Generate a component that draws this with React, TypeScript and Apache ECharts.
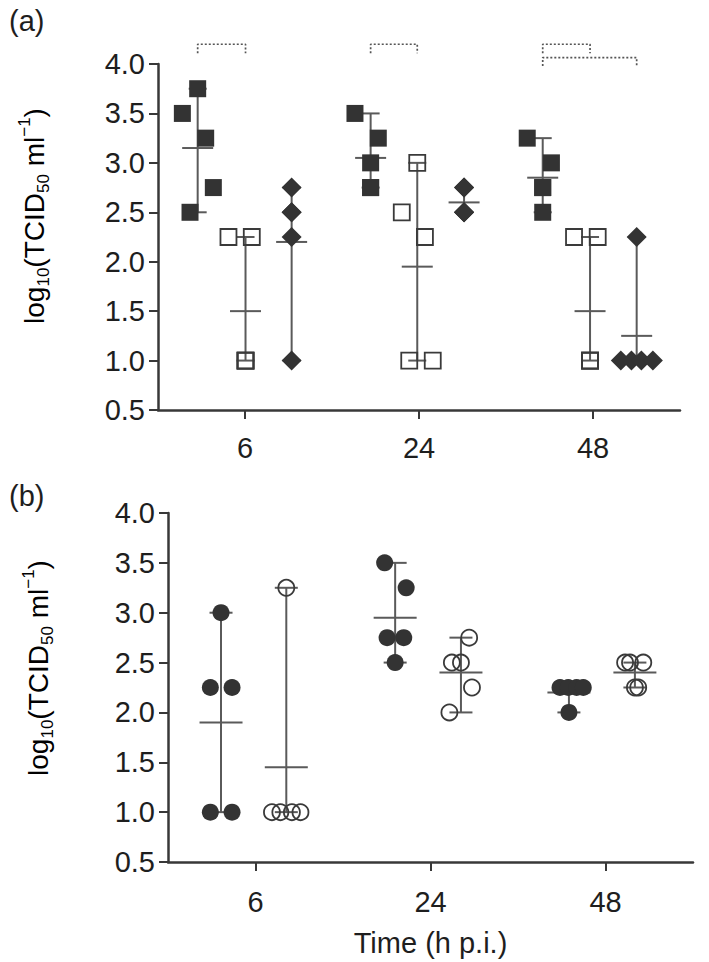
import React, { useEffect, useRef } from 'react';
import * as echarts from 'echarts';

// ---------- data ----------
const timeCategories = ['6', '24', '48'];

// Panel (a): per time point (6, 24, 48 h p.i.)
const aFilledSquareValues = [
  [3.75, 3.5, 3.25, 2.75, 2.5],
  [3.5, 3.25, 3.0, 2.75, 2.75],
  [3.25, 3.0, 2.75, 2.75, 2.5],
];
const aFilledSquareDx = [
  [-0.272, -0.36, -0.226, -0.182, -0.316],
  [-0.368, -0.234, -0.278, -0.278, -0.278],
  [-0.378, -0.239, -0.289, -0.289, -0.289],
];
const aFilledBarDx = [-0.272, -0.278, -0.289];

const aOpenSquareValues = [
  [2.25, 2.25, 1.0, 1.0, 1.0],
  [3.0, 2.5, 2.25, 1.0, 1.0],
  [2.25, 2.25, 1.0, 1.0, 1.0],
];
const aOpenSquareDx = [
  [-0.095, 0.039, 0.003, 0.003, 0.003],
  [-0.01, -0.099, 0.034, -0.056, 0.079],
  [-0.109, 0.027, -0.017, -0.017, -0.017],
];
const aOpenBarDx = [0.003, -0.01, -0.017];

const aDiamondValues = [
  [2.75, 2.5, 2.5, 2.25, 1.0],
  [2.75, 2.75, 2.5, 2.5, 2.5],
  [2.25, 1.0, 1.0, 1.0, 1.0],
];
const aDiamondDx = [
  [0.268, 0.268, 0.268, 0.268, 0.268],
  [0.259, 0.259, 0.259, 0.259, 0.259],
  [0.251, 0.16, 0.221, 0.278, 0.344],
];
const aDiamondBarDx = [0.268, 0.259, 0.251];

// significance brackets of panel (a)
const bracketCategory = [0, 1, 2, 2];
const bracketFromGroup = [0, 0, 0, 0];
const bracketToGroup = [1, 1, 1, 2];
const bracketTop = [4.2, 4.2, 4.2, 4.065];
const bracketFoot = [4.11, 4.11, 4.11, 3.98];

// Panel (b)
const bFilledCircleValues = [
  [3.0, 2.25, 2.25, 1.0, 1.0],
  [3.5, 3.25, 2.75, 2.75, 2.5],
  [2.25, 2.25, 2.25, 2.25, 2.0],
];
const bFilledCircleDx = [
  [-0.197, -0.258, -0.134, -0.258, -0.134],
  [-0.262, -0.139, -0.248, -0.153, -0.202],
  [-0.26, -0.213, -0.165, -0.127, -0.209],
];
const bFilledBarDx = [-0.197, -0.202, -0.209];

const bOpenCircleValues = [
  [3.25, 1.0, 1.0, 1.0, 1.0],
  [2.75, 2.5, 2.5, 2.25, 2.0],
  [2.5, 2.5, 2.5, 2.25, 2.25],
];
const bOpenCircleDx = [
  [0.176, 0.094, 0.142, 0.208, 0.257],
  [0.221, 0.122, 0.174, 0.237, 0.108],
  [0.112, 0.14, 0.216, 0.168, 0.187],
];
const bOpenBarDx = [0.176, 0.174, 0.168];

// ---------- helpers ----------
const FONT = '"Liberation Sans", Arial, Helvetica, sans-serif';
const INK = '#333333';
const AXIS = '#383838';
const BAR = '#5a5a5a';
const TEXT = '#1e1e1e';
const TICK_FONT = 29;

const mean = (a: number[]) => a.reduce((s, v) => s + v, 0) / a.length;

function toPoints(values: number[][], dx: number[][]) {
  const out: number[][] = [];
  values.forEach((vals, c) => vals.forEach((v, i) => out.push([c + 0.5 + dx[c][i], v])));
  return out;
}
function toBars(values: number[][], barDx: number[]) {
  return values.map((vals, c) => [c + 0.5 + barDx[c], Math.min(...vals), Math.max(...vals), mean(vals)]);
}

function errorBarSeries(xAxisIndex: number, yAxisIndex: number, data: number[][], capW: number, meanW: number) {
  return {
    type: 'custom',
    xAxisIndex,
    yAxisIndex,
    z: 1,
    silent: true,
    encode: { x: 0, y: [1, 2, 3] },
    data,
    renderItem: (_p: any, api: any) => {
      const x = api.value(0);
      const lo = api.coord([x, api.value(1)]);
      const hi = api.coord([x, api.value(2)]);
      const mn = api.coord([x, api.value(3)]);
      const style = { stroke: BAR, lineWidth: 2 };
      return {
        type: 'group',
        children: [
          { type: 'line', shape: { x1: lo[0], y1: lo[1], x2: hi[0], y2: hi[1] }, style },
          { type: 'line', shape: { x1: lo[0] - capW / 2, y1: lo[1], x2: lo[0] + capW / 2, y2: lo[1] }, style },
          { type: 'line', shape: { x1: hi[0] - capW / 2, y1: hi[1], x2: hi[0] + capW / 2, y2: hi[1] }, style },
          { type: 'line', shape: { x1: mn[0] - meanW / 2, y1: mn[1], x2: mn[0] + meanW / 2, y2: mn[1] }, style },
        ],
      };
    },
  };
}

function scatter(xAxisIndex: number, yAxisIndex: number, data: number[][], symbol: string, size: any, filled: boolean) {
  return {
    type: 'scatter',
    xAxisIndex,
    yAxisIndex,
    z: 2,
    symbol,
    symbolSize: size,
    data,
    silent: true,
    itemStyle: filled
      ? { color: INK, borderWidth: 0, opacity: 1 }
      : { color: 'rgba(255,255,255,0)', borderColor: '#3a3a3a', borderWidth: 1.8, opacity: 1 },
  };
}

const catAxis = (gridIndex: number, margin: number, extra: any = {}) => ({
  gridIndex,
  type: 'category',
  data: timeCategories,
  boundaryGap: true,
  axisLine: { show: true, lineStyle: { color: AXIS, width: 2.5 } },
  axisTick: { show: true, alignWithLabel: true, length: 9, lineStyle: { color: AXIS, width: 2 } },
  axisLabel: { show: true, interval: 0, margin, fontSize: TICK_FONT, color: TEXT, fontFamily: FONT },
  splitLine: { show: false },
  ...extra,
});
const hiddenValueX = (gridIndex: number) => ({ gridIndex, type: 'value', min: 0, max: 3, show: false });
const valueY = (gridIndex: number) => ({
  gridIndex,
  type: 'value',
  min: 0.5,
  max: 4,
  interval: 0.5,
  axisLine: { show: true, lineStyle: { color: AXIS, width: 2.5 } },
  axisTick: { show: true, length: 9, lineStyle: { color: AXIS, width: 2 } },
  axisLabel: { margin: 13, fontSize: TICK_FONT, color: TEXT, fontFamily: FONT, formatter: (v: number) => v.toFixed(1) },
  splitLine: { show: false },
});

const yLabelRich = {
  n: { fontSize: 28, fontFamily: FONT, color: TEXT, lineHeight: 36 },
  s: { fontSize: 17, fontFamily: FONT, color: TEXT, lineHeight: 17, verticalAlign: 'bottom' },
  p: { fontSize: 17, fontFamily: FONT, color: TEXT, lineHeight: 17, verticalAlign: 'top' },
};
const yLabelText = '{n|log}{s|10}{n|(TCID}{s|50}{n| ml}{p|−1}{n|)}';

export default function App() {
  const ref = useRef<HTMLDivElement>(null);
  useEffect(() => {
    document.body.style.margin = '0';
    if (!ref.current) return;
    const chart = echarts.init(ref.current, undefined, { renderer: 'svg' });

    const aGroupBarDx = [aFilledBarDx, aOpenBarDx, aDiamondBarDx];
    const bracketSeries = bracketCategory.map((c, i) => {
      const x1 = c + 0.5 + aGroupBarDx[bracketFromGroup[i]][c];
      const x2 = c + 0.5 + aGroupBarDx[bracketToGroup[i]][c];
      return {
        type: 'line',
        xAxisIndex: 1,
        yAxisIndex: 0,
        clip: false,
        silent: true,
        symbol: 'none',
        z: 3,
        lineStyle: { color: '#555555', width: 1.7, type: [2, 2] },
        data: [
          [x1, bracketFoot[i]],
          [x1, bracketTop[i]],
          [x2, bracketTop[i]],
          [x2, bracketFoot[i]],
        ],
      };
    });

    const option: any = {
      animation: false,
      backgroundColor: '#ffffff',
      textStyle: { fontFamily: FONT },
      title: [
        { text: '(a)', left: 4, top: 1, textStyle: { fontSize: 29, fontWeight: 'normal', color: TEXT, fontFamily: FONT } },
        { text: '(b)', left: 4, top: 476, textStyle: { fontSize: 29, fontWeight: 'normal', color: TEXT, fontFamily: FONT } },
      ],
      grid: [
        { left: 158, top: 64, width: 522, height: 346 },
        { left: 168, top: 513, width: 525, height: 349 },
      ],
      xAxis: [
        catAxis(0, 23),
        hiddenValueX(0),
        catAxis(1, 25, {
          name: 'Time (h p.i.)',
          nameLocation: 'middle',
          nameGap: 66,
          nameTextStyle: { fontSize: TICK_FONT, color: TEXT, fontFamily: FONT },
        }),
        hiddenValueX(1),
      ],
      yAxis: [valueY(0), valueY(1)],
      graphic: [
        {
          type: 'text',
          x: 34,
          y: 216,
          rotation: Math.PI / 2,
          style: { text: yLabelText, rich: yLabelRich, align: 'center', verticalAlign: 'middle' },
        },
        {
          type: 'text',
          x: 38,
          y: 668,
          rotation: Math.PI / 2,
          style: { text: yLabelText, rich: yLabelRich, align: 'center', verticalAlign: 'middle' },
        },
      ],
      series: [
        errorBarSeries(1, 0, toBars(aFilledSquareValues, aFilledBarDx), 18, 31),
        errorBarSeries(1, 0, toBars(aOpenSquareValues, aOpenBarDx), 18, 31),
        errorBarSeries(1, 0, toBars(aDiamondValues, aDiamondBarDx), 18, 31),
        scatter(1, 0, toPoints(aFilledSquareValues, aFilledSquareDx), 'rect', 17, true),
        scatter(1, 0, toPoints(aOpenSquareValues, aOpenSquareDx), 'rect', 16, false),
        scatter(1, 0, toPoints(aDiamondValues, aDiamondDx), 'diamond', [20, 20], true),
        ...bracketSeries,
        errorBarSeries(3, 1, toBars(bFilledCircleValues, bFilledBarDx), 23, 43),
        errorBarSeries(3, 1, toBars(bOpenCircleValues, bOpenBarDx), 23, 43),
        scatter(3, 1, toPoints(bFilledCircleValues, bFilledCircleDx), 'circle', 17, true),
        scatter(3, 1, toPoints(bOpenCircleValues, bOpenCircleDx), 'circle', 16, false),
      ],
    };
    chart.setOption(option);
    return () => chart.dispose();
  }, []);
  return <div ref={ref} style={{ width: 709, height: 962 }} />;
}
